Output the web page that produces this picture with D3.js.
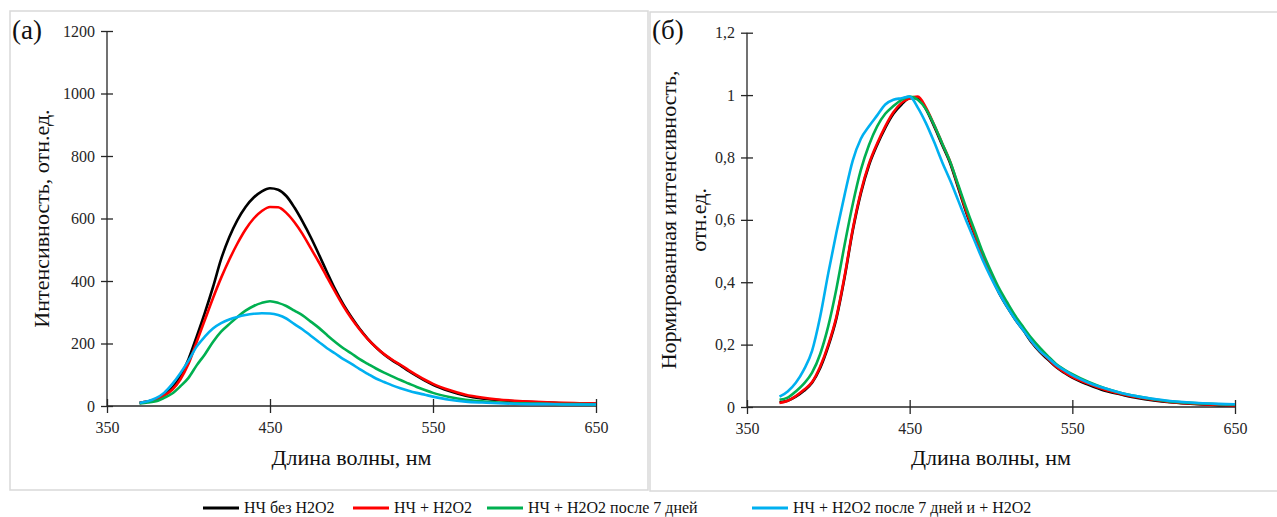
<!DOCTYPE html>
<html>
<head>
<meta charset="utf-8">
<script src="https://cdn.jsdelivr.net/npm/d3@7"></script>
<style>
  body { margin: 0; background: #fff; }
  svg text { font-family: "Liberation Serif", "DejaVu Serif", "Times New Roman", serif; }
  .axis path, .axis line { stroke: #262626; stroke-width: 1.3; }
  .axis text { font-size: 16px; fill: #262626; }
  .title { font-size: 22px; fill: #111; }
  .panel-label { font-size: 27px; fill: #111; }
  .legend text { font-size: 16px; fill: #111; }
</style>
</head>
<body>
<svg id="chart" width="1277" height="517"></svg>
<script>
const serif = '"Liberation Serif", "DejaVu Serif", "Times New Roman", serif';

// wavelengths, nm
const wavelengths = [370,375,380,385,390,395,400,405,410,415,420,425,430,435,440,445,450,455,460,465,470,475,480,485,490,495,500,505,510,515,520,525,530,535,540,545,550,560,570,580,590,600,610,620,630,640,650];

// (a) intensity, rel. units
const npNoH2O2 = [10,14,22,35,58,95,150,222,298,380,470,540,595,637,667,687,697,692,672,635,590,540,485,428,373,325,284,247,215,188,165,146,130,112,96,81,68,48,33,24,19,15,13,11,9,8,7];
const npH2O2 = [10,14,21,33,52,85,135,205,275,345,410,468,520,565,600,624,637,636,618,588,550,505,460,412,365,320,280,245,214,188,166,148,132,115,99,84,71,51,36,27,21,17,14,12,10,9,8];
const npH2O2Day7 = [8,11,15,26,40,63,90,130,165,205,238,262,285,305,320,330,335,330,320,305,290,270,250,227,205,185,168,150,135,120,107,95,83,72,61,51,42,29,20,15,11,9,8,7,6,6,5];
const npH2O2Day7Plus = [10,15,25,42,70,105,145,190,222,248,265,277,285,291,295,297,296,291,280,262,245,225,205,185,168,150,135,118,103,88,77,66,57,49,42,36,30,20,14,11,9,7,6,6,5,5,5];

// (б) normalized intensity
const normNoH2O2 = [0.015,0.02,0.033,0.052,0.078,0.125,0.195,0.285,0.415,0.565,0.685,0.775,0.84,0.895,0.94,0.97,0.99,0.99,0.955,0.9,0.84,0.78,0.7,0.62,0.55,0.48,0.42,0.365,0.32,0.28,0.245,0.207,0.177,0.152,0.128,0.11,0.094,0.071,0.052,0.04,0.029,0.021,0.015,0.011,0.008,0.006,0.005];
const normH2O2 = [0.013,0.02,0.035,0.055,0.08,0.13,0.2,0.29,0.42,0.57,0.69,0.78,0.845,0.9,0.945,0.975,0.99,0.995,0.96,0.905,0.845,0.785,0.705,0.625,0.555,0.485,0.425,0.37,0.325,0.285,0.25,0.21,0.18,0.155,0.13,0.112,0.097,0.074,0.055,0.042,0.031,0.023,0.016,0.012,0.009,0.007,0.005];
const normH2O2Day7 = [0.023,0.03,0.05,0.075,0.11,0.17,0.26,0.38,0.52,0.65,0.76,0.84,0.9,0.94,0.965,0.985,0.995,0.985,0.955,0.905,0.845,0.785,0.71,0.635,0.565,0.495,0.435,0.38,0.335,0.292,0.255,0.22,0.19,0.163,0.138,0.12,0.105,0.08,0.06,0.045,0.034,0.025,0.018,0.014,0.011,0.009,0.008];
const normH2O2Day7Plus = [0.033,0.05,0.078,0.12,0.18,0.29,0.43,0.56,0.68,0.79,0.86,0.9,0.935,0.97,0.985,0.99,0.995,0.96,0.91,0.85,0.785,0.725,0.66,0.595,0.532,0.47,0.415,0.365,0.32,0.28,0.245,0.21,0.18,0.158,0.135,0.118,0.102,0.078,0.06,0.045,0.034,0.026,0.019,0.015,0.012,0.01,0.009];

const seriesNames = ['НЧ без H2O2', 'НЧ + H2O2', 'НЧ + H2O2 после 7 дней', 'НЧ + H2O2 после 7 дней и + H2O2'];
const seriesColors = ['#000000', '#ff0000', '#00b050', '#00b0f0'];

const xTicks = [350, 450, 550, 650];
const yTicksA = [0, 200, 400, 600, 800, 1000, 1200];
const yTicksB = [0, 0.2, 0.4, 0.6, 0.8, 1, 1.2];
const yTickLabelsB = ['0', '0,2', '0,4', '0,6', '0,8', '1', '1,2'];

const svg = d3.select('#chart');

function drawPanel(opts) {
    const g = svg.append('g');

    // light frame around the chart
    g.append('rect')
        .attr('x', opts.frame[0]).attr('y', opts.frame[1])
        .attr('width', opts.frame[2]).attr('height', opts.frame[3])
        .attr('fill', 'none').attr('stroke', '#d9d9d9').attr('stroke-width', 1.5);

    const xScale = d3.scaleLinear().domain([350, 650]).range([opts.left, opts.right]);
    const yScale = d3.scaleLinear().domain([0, opts.yMax]).range([opts.bottom, opts.top]);

    const xAxis = g.append('g')
        .attr('class', 'axis')
        .attr('transform', `translate(0, ${opts.bottom})`)
        .call(d3.axisBottom(xScale).tickValues(xTicks).tickSize(7).tickPadding(9).tickFormat(d3.format('d')));
    xAxis.selectAll('.tick line').attr('y1', -7).attr('y2', 7);
    xAxis.select('.domain').attr('d', `M${opts.left},0H${opts.right}`);

    const yAxis = g.append('g')
        .attr('class', 'axis')
        .attr('transform', `translate(${opts.left}, 0)`)
        .call(d3.axisLeft(yScale).tickValues(opts.yTicks).tickSize(6).tickPadding(6)
            .tickFormat((d, i) => opts.yLabels[i]));
    yAxis.selectAll('.tick line').attr('x1', 6).attr('x2', -6);
    yAxis.select('.domain').attr('d', `M0,${opts.bottom}V${opts.top}`);

    g.selectAll('.axis').attr('font-family', serif).attr('font-size', 16);

    const line = d3.line()
        .x((d, i) => xScale(wavelengths[i]))
        .y(d => yScale(d))
        .curve(d3.curveMonotoneX);

    opts.series.forEach((s, k) => {
        g.append('path')
            .datum(s)
            .attr('d', line)
            .attr('fill', 'none')
            .attr('stroke', seriesColors[k])
            .attr('stroke-width', 2.6)
            .attr('stroke-linejoin', 'round');
    });

    g.append('text')
        .attr('class', 'title')
        .attr('x', (opts.left + opts.right) / 2)
        .attr('y', 465)
        .attr('text-anchor', 'middle')
        .text('Длина волны, нм');

    opts.yTitle.forEach((t, i) => {
        g.append('text')
            .attr('class', 'title')
            .attr('transform', `translate(${opts.yTitleX[i]}, ${(opts.top + opts.bottom) / 2}) rotate(-90)`)
            .attr('text-anchor', 'middle')
            .text(t);
    });

    g.append('text')
        .attr('class', 'panel-label')
        .attr('x', opts.frame[0] + 2)
        .attr('y', 39)
        .text(opts.label);
}

drawPanel({
    frame: [10, 11, 638, 479],
    left: 107, right: 596, top: 31, bottom: 406,
    yMax: 1200, yTicks: yTicksA, yLabels: yTicksA.map(String),
    series: [npNoH2O2, npH2O2, npH2O2Day7, npH2O2Day7Plus],
    yTitle: ['Интенсивность, отн.ед.'], yTitleX: [49],
    label: '(a)'
});

drawPanel({
    frame: [650, 12, 630, 479],
    left: 747, right: 1235, top: 32.7, bottom: 407,
    yMax: 1.2, yTicks: yTicksB, yLabels: yTickLabelsB,
    series: [normNoH2O2, normH2O2, normH2O2Day7, normH2O2Day7Plus],
    yTitle: ['Нормированная интенсивность,', 'отн.ед.'], yTitleX: [676, 706],
    label: '(б)'
});

// legend
const legendX = [203, 353, 487, 752];
const legend = svg.append('g').attr('class', 'legend');
seriesNames.forEach((name, i) => {
    legend.append('line')
        .attr('x1', legendX[i]).attr('x2', legendX[i] + 36)
        .attr('y1', 508).attr('y2', 508)
        .attr('stroke', seriesColors[i]).attr('stroke-width', 3);
    legend.append('text')
        .attr('x', legendX[i] + 41)
        .attr('y', 513)
        .text(name);
});
</script>
</body>
</html>
